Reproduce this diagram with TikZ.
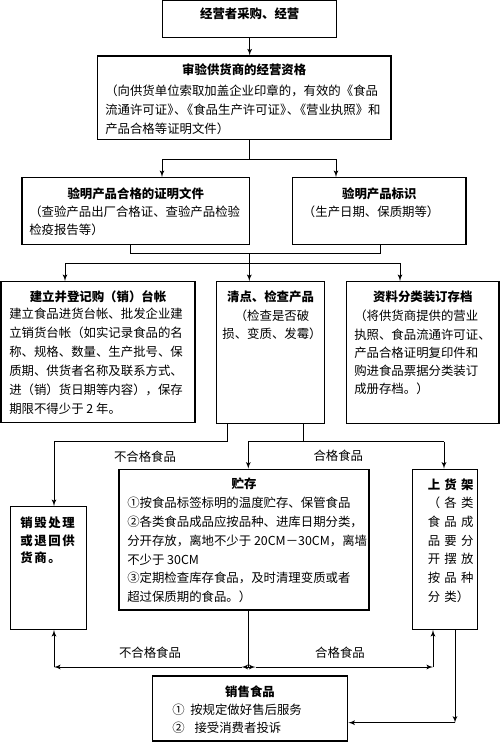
\documentclass[tikz,border=0pt]{standalone}
\usepackage{fontspec}
\setmainfont{Noto Sans CJK SC}
\usetikzlibrary{shapes,arrows}
\tikzstyle{block} = [rectangle, draw, line width=1pt, inner sep=0pt]
\tikzstyle{line} = [draw, line width=0.7pt, -latex']
\tikzstyle{wire} = [draw, line width=0.7pt]
\tikzstyle{title} = [inner sep=0pt, font=\fontsize{9.3pt}{14pt}\selectfont\bfseries]
\tikzstyle{tag} = [inner sep=0pt, font=\fontsize{9.3pt}{14pt}\selectfont]
\tikzset{
  boxsize/.style 2 args={minimum width=#1*0.75pt, minimum height=#2*0.75pt},
  body/.style={inner sep=0pt, anchor=north west, align=left, font=\fontsize{9.3pt}{#1}\selectfont}
}
\newcommand\pk{\kern-.45em}
\newcommand\gapa{\hspace{1.2pt}}
\newcommand\gapb{\hspace{3.2pt}}

\begin{document}
\begin{tikzpicture}[x=0.75pt,y=-0.75pt]
\useasboundingbox (0,0) rectangle (500,743);
% boxes
\node [block, boxsize={174}{36.5}] (caigou) at (249.7,19.05) {};
\node [block, boxsize={293.7}{83.3}] (zige) at (244.2,97.7) {};
\node [block, boxsize={227.3}{66.6}] (zhengming) at (135.7,211) {};
\node [block, boxsize={173.3}{66.6}] (biaoshi) at (379.3,211) {};
\node [block, boxsize={194}{141}] (taizhang) at (98,352.2) {};
\node [block, boxsize={107.6}{141.6}] (qingdian) at (270.5,352.5) {};
\node [block, boxsize={152.3}{141.6}] (cundang) at (422.8,352.5) {};
\node [block, boxsize={76}{122.6}] (xiaohui) at (48.7,568) {};
\node [block, boxsize={250}{140.7}] (zhucun) at (244,539.7) {};
\node [block, boxsize={65}{160}] (huojia) at (444.8,549.3) {};
\node [block, boxsize={195.4}{65}] (xiaoshou) at (250,708.5) {};

% texts
\node [title] (caigou-t) at (249.7,14) {经营者采购、经营};
\node [title] (zige-t) at (244.2,70) {审验供货商的经营资格};
\node [body=14.25pt] (zige-b) at (105,84.2) {（向供货单位索取加盖企业印章的，有效的《食品\\
流通许可证》\pk、\pk《食品生产许可证》\pk、\pk《营业执照》和\\
产品合格等证明文件）};
\node [title] (zhengming-t) at (135.7,193.3) {验明产品合格的证明文件};
\node [body=13.2pt] (zhengming-b) at (29,205.9) {（查验产品出厂合格证、查验产品检验\\
检疫报告等）};
\node [title] (biaoshi-t) at (379.3,193.3) {验明产品标识};
\node [body=13.2pt] (biaoshi-b) at (302.7,205.9) {（生产日期、保质期等）};
\node [title] (taizhang-t) at (98,296.7) {建立并登记购（销）台帐};
\node [body=14.25pt] (taizhang-b) at (9,307.5) {建立食品进货台帐、批发企业建\\
立销货台帐（如实记录食品的名\\
称、规格、数量、生产批号、保\\
质期、供货者名称及联系方式、\\
进（销）货日期等内容），保存\\
期限不得少于 2 年。};
\node [title] (qingdian-t) at (270.5,296.7) {清点、检查产品};
\node [body=13.2pt, anchor=north, align=center] (qingdian-b) at (272,309.9) {（检查是否破\\
损、变质、发霉）};
\node [title] (cundang-t) at (422.8,296.7) {资料分类装订存档};
\node [body=13.7pt] (cundang-b) at (354,309.9) {（将供货商提供的营业\\
执照、食品流通许可证、\\
产品合格证明复印件和\\
购进食品票据分类装订\\
成册存档。）};
\node [body=13.1pt, font=\fontsize{9.3pt}{13.1pt}\selectfont\bfseries] (xiaohui-b) at (20,516.9) {销\gapa 毁\gapa 处\gapa 理\\
或\gapa 退\gapa 回\gapa 供\\
货\gapa 商\gapa 。};
\node [title] (zhucun-t) at (244,483.3) {贮存};
\node [body=14.1pt] (zhucun-b) at (127,496.9) {①按食品标签标明的温度贮存、保管食品\\
②各类食品成品应按品种、进库日期分类，\\
分开存放，离地不少于 20CM－30CM，离墙\\
不少于 30CM\\
③定期检查库存食品，及时清理变质或者\\
超过保质期的食品。）};
\node [body=14pt] (huojia-b) at (427.5,478.2) {\textbf{上\gapb 货\gapb 架}\\
（\gapb 各\gapb 类\\
食\gapb 品\gapb 成\\
品\gapb 要\gapb 分\\
开\gapb 摆\gapb 放\\
按\gapb 品\gapb 种\\
分\gapb 类）};
\node [title] (xiaoshou-t) at (250,691.7) {销售食品};
\node [body=13pt] (xiaoshou-b) at (172,704.2) {①\hspace{4.2pt}按规定做好售后服务\\
②\hspace{7.4pt}接受消费者投诉};

% flow labels
\node [tag] (bad1-t) at (145,456.7) {不合格食品};
\node [tag] (good1-t) at (338.3,456) {合格食品};
\node [tag] (bad2-t) at (150,652.7) {不合格食品};
\node [tag] (good2-t) at (340,652.7) {合格食品};

% connectors
\coordinate (fork1) at (249.5,159.3);
\coordinate (f1l) at (162,159.3);
\coordinate (f1r) at (336,159.3);
\path [line] (caigou.south) -- (caigou.south |- zige.north);
\path [wire] (fork1 |- zige.south) -- (fork1);
\path [wire] (f1l) -- (f1r);
\path [line] (f1l) -- (f1l |- zhengming.north);
\path [line] (f1r) -- (f1r |- biaoshi.north);

\coordinate (join1l) at (130,253.3);
\coordinate (join1r) at (380,253.3);
\coordinate (fork2) at (249.3,263.3);
\coordinate (f2l) at (65,263.3);
\coordinate (f2r) at (400,263.3);
\path [wire] (join1l |- zhengming.south) -- (join1l) -- (join1r) -- (join1r |- biaoshi.south);
\path [wire] (fork2 |- join1l) -- (fork2);
\path [wire] (f2l) -- (f2r);
\path [line] (f2l) -- (f2l |- taizhang.north);
\path [line] (fork2) -- (fork2 |- qingdian.north);
\path [line] (f2r) -- (f2r |- cundang.north);

\coordinate (bad1) at (227.5,441.7);
\coordinate (bad1c) at (54,441.7);
\coordinate (good1) at (303.5,441.7);
\coordinate (g1l) at (248.3,441.7);
\coordinate (g1r) at (444,441.7);
\path [line] (bad1 |- qingdian.south) -- (bad1) -- (bad1c) -- (bad1c |- xiaohui.north);
\path [wire] (good1 |- qingdian.south) -- (good1);
\path [wire] (g1l) -- (g1r);
\path [line] (g1l) -- (g1l |- zhucun.north);
\path [line] (g1r) -- (g1r |- huojia.north);

\coordinate (fork3) at (248.5,667);
\coordinate (f3a) at (241.5,667);
\coordinate (f3b) at (255.5,667);
\coordinate (bad2c) at (54,667);
\coordinate (good2c) at (433,667);
\path [wire] (fork3 |- zhucun.south) -- (fork3);
\path [line] (fork3) -- (f3a);
\path [line] (f3a) -- (bad2c);
\path [line] (bad2c) -- (bad2c |- xiaohui.south);
\path [line] (fork3) -- (f3b);
\path [line] (f3b) -- (good2c);
\path [line] (good2c) -- (good2c |- huojia.south);

\coordinate (salec) at (455,722.7);
\path [line] (salec |- huojia.south) -- (salec);
\path [line] (salec) -- (salec -| xiaoshou.east);
\end{tikzpicture}
\end{document}
